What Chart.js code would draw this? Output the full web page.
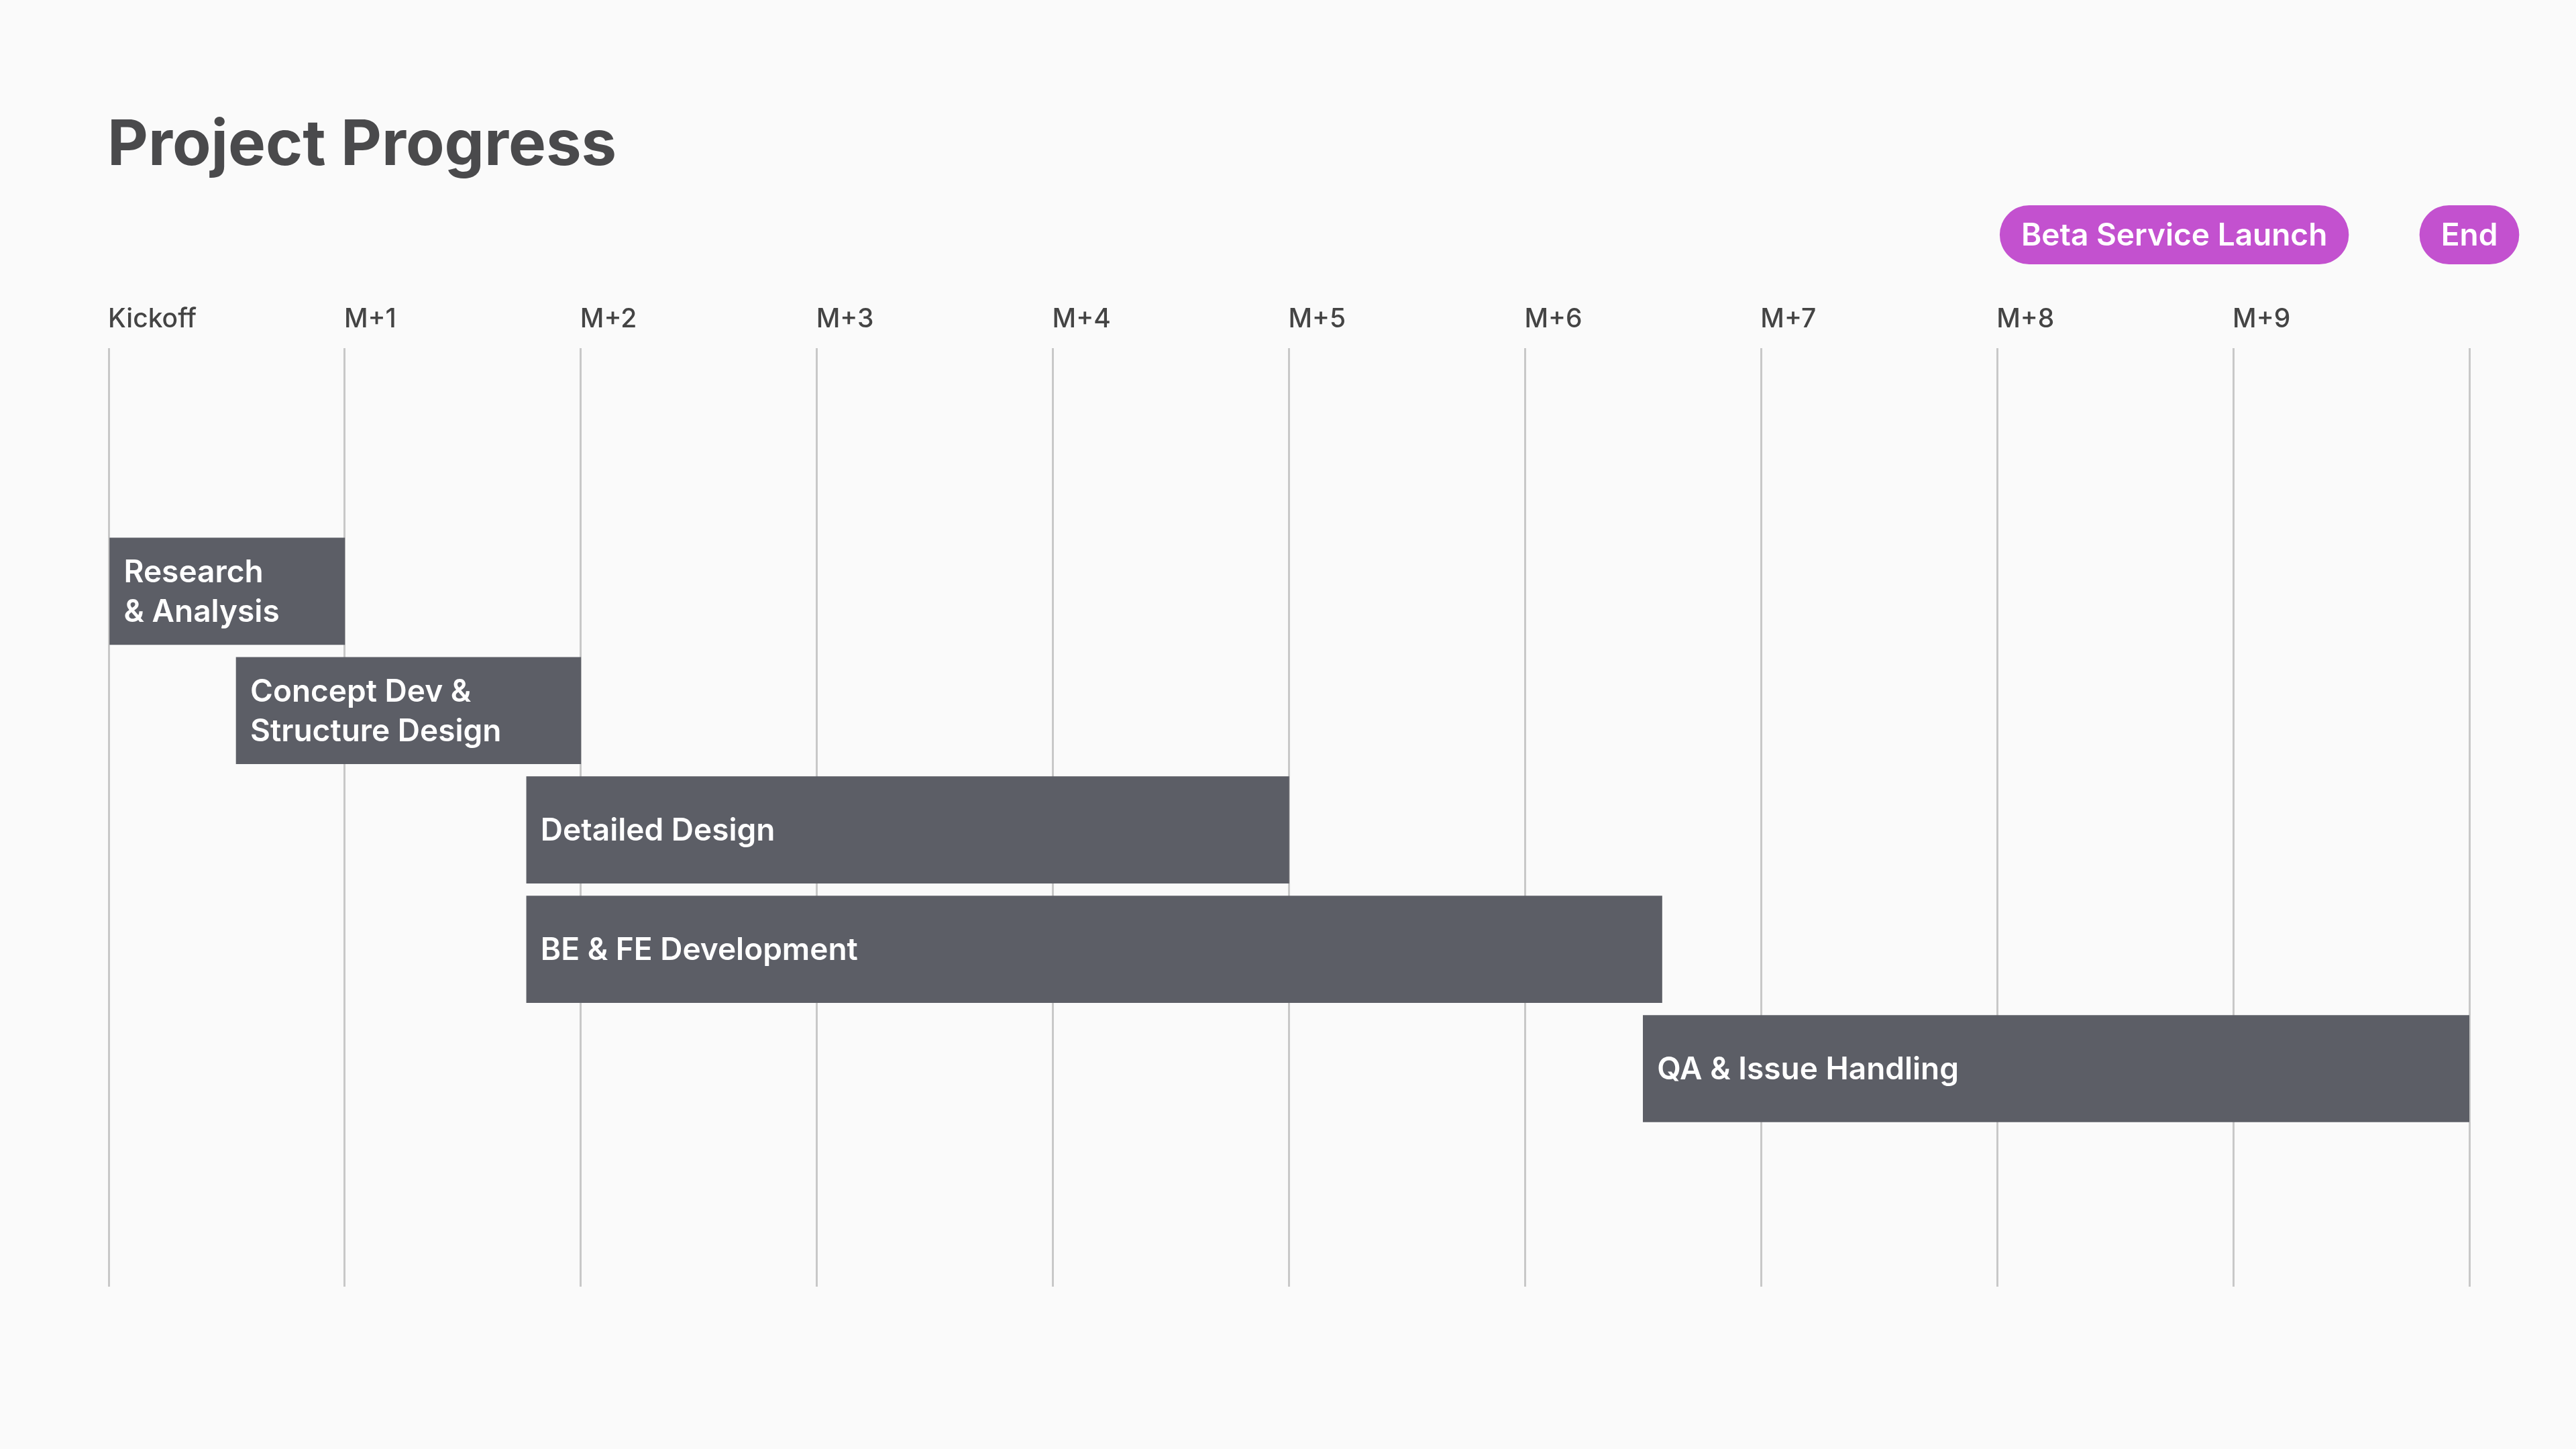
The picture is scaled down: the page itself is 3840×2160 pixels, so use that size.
<!DOCTYPE html>
<html><head><meta charset="utf-8">
<script src="https://cdn.jsdelivr.net/npm/chart.js@4.4.1/dist/chart.umd.min.js"></script>
<style>html,body{margin:0;padding:0;background:#fafafa;}#wrap{width:3840px;height:2160px;}</style>
</head><body><div id="wrap"><canvas id="c" width="3840" height="2160"></canvas></div>
<script>
const tasks = [["Research","& Analysis"],["Concept Dev &","Structure Design"],["Detailed Design"],["BE & FE Development"],["QA & Issue Handling"]];
const starts = [0, 0.54, 1.77, 1.77, 6.5];
const ends = [1, 2.0, 5.0, 6.58, 10.0];
const tickLabels = ["Kickoff","M+1","M+2","M+3","M+4","M+5","M+6","M+7","M+8","M+9",""];
const milestones = ["Beta Service Launch","End"];
const milestoneAt = [8.75, 10];

const FONT = "Inter, 'Noto Sans', sans-serif";
const overlay = {
  id:'overlay',
  afterDatasetsDraw(chart){
    const ctx = chart.ctx, xs = chart.scales.x, ys = chart.scales.y;
    ctx.save();
    // title
    ctx.fillStyle='#4a4a4c'; ctx.font='700 94px '+FONT; ctx.textBaseline='middle'; ctx.textAlign='left';
    ctx.fillText('Project Progress', 160, 218);
    // tick labels
    ctx.fillStyle='#444'; ctx.font='500 39px '+FONT;
    tickLabels.forEach((t,i)=>{ if(t) ctx.fillText(t, xs.getPixelForValue(i)-1, 476); });
    // bar labels
    ctx.fillStyle='#fff'; ctx.font='600 46px '+FONT;
    const meta = chart.getDatasetMeta(0);
    meta.data.forEach((bar,i)=>{
      const lines = tasks[i], lh=59;
      const x0 = Math.min(bar.x, bar.base) + 21;
      lines.forEach((l,j)=>ctx.fillText(l, x0, bar.y + (j-(lines.length-1)/2)*lh + 2));
    });
    // milestone pills
    ctx.font='600 46px '+FONT; ctx.textAlign='center';
    milestones.forEach((m,i)=>{
      const cx = xs.getPixelForValue(milestoneAt[i]);
      const w = ctx.measureText(m).width + 64, h = 88, cy = 350;
      ctx.fillStyle='#c351cf';
      ctx.beginPath(); ctx.roundRect(cx-w/2, cy-h/2, w, h, h/2); ctx.fill();
      ctx.fillStyle='#fff'; ctx.fillText(m, cx, cy+2);
    });
    ctx.restore();
  }
};

new Chart(document.getElementById('c'), {
  type:'bar',
  data:{ datasets:[{
    data: starts.map((s,i)=>({x:[s, ends[i]], y:i})),
    backgroundColor:'#5c5e66', borderWidth:0, barThickness:159
  }]},
  options:{
    indexAxis:'y', responsive:false, animation:false, devicePixelRatio:1,
    layout:{padding:{left:162, right:159, top:519, bottom:242}},
    plugins:{legend:{display:false}, tooltip:{enabled:false}},
    scales:{
      x:{type:'linear', min:0, max:10, ticks:{display:false, stepSize:1},
         grid:{color:'#c8c8c8', lineWidth:3, drawTicks:false}, border:{display:false}},
      y:{type:'linear', min:-1.6, max:5.39, reverse:true, display:false, grid:{display:false}}
    }
  },
  plugins:[overlay]
});
</script></body></html>
